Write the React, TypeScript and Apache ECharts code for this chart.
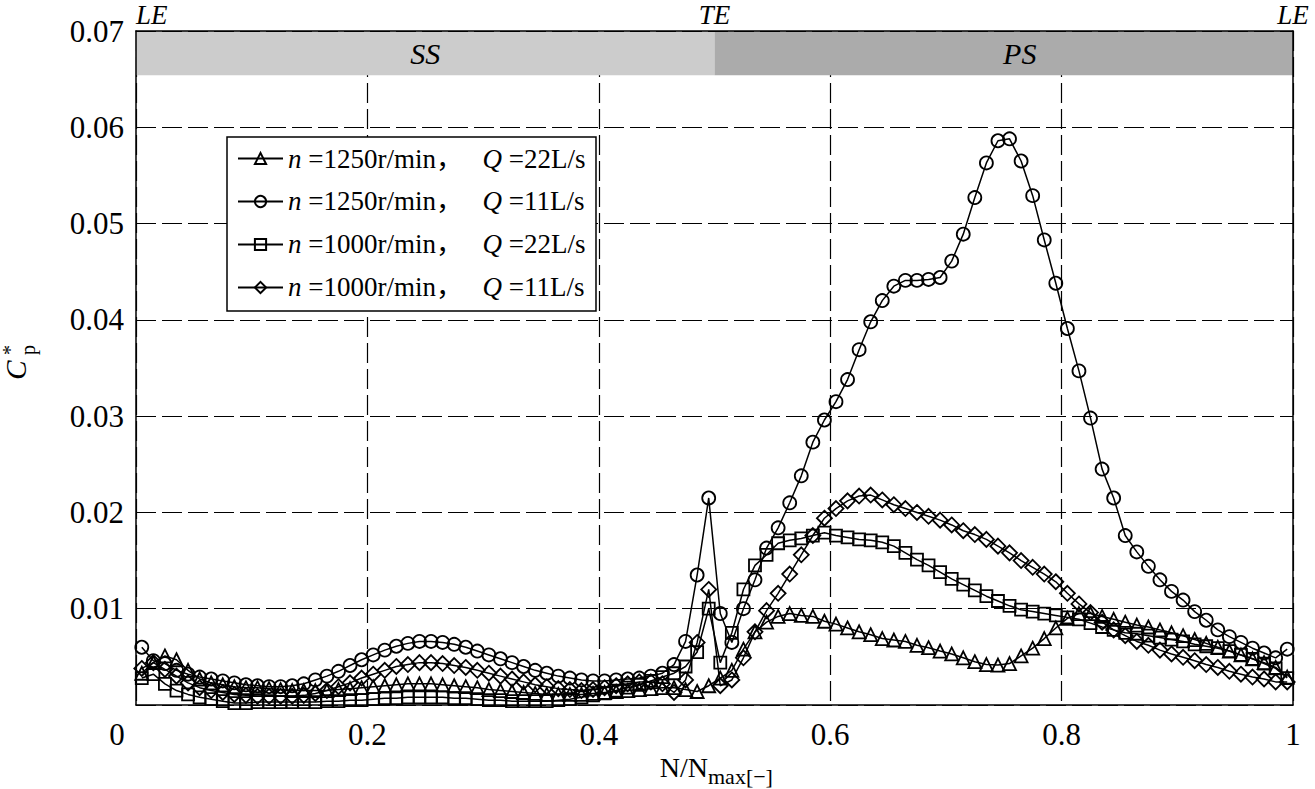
import { useEffect, useRef } from 'react';
import * as echarts from 'echarts';

// N/Nmax positions shared by all four series
const X = [
  0.005, 0.015, 0.025, 0.035, 0.045, 0.055, 0.065, 0.075, 0.085, 0.095,
  0.105, 0.115, 0.125, 0.135, 0.145, 0.155, 0.165, 0.175, 0.185, 0.195,
  0.205, 0.215, 0.225, 0.235, 0.245, 0.255, 0.265, 0.275, 0.285, 0.295,
  0.305, 0.315, 0.325, 0.335, 0.345, 0.355, 0.365, 0.375, 0.385, 0.395,
  0.405, 0.415, 0.425, 0.435, 0.445, 0.455, 0.465, 0.475, 0.485, 0.495,
  0.505, 0.515, 0.525, 0.535, 0.545, 0.555, 0.565, 0.575, 0.585, 0.595,
  0.605, 0.615, 0.625, 0.635, 0.645, 0.655, 0.665, 0.675, 0.685, 0.695,
  0.705, 0.715, 0.725, 0.735, 0.745, 0.755, 0.765, 0.775, 0.785, 0.795,
  0.805, 0.815, 0.825, 0.835, 0.845, 0.855, 0.865, 0.875, 0.885, 0.895,
  0.905, 0.915, 0.925, 0.935, 0.945, 0.955, 0.965, 0.975, 0.985, 0.995,
];

// Cp* values in units of 1e-3
const TRI_1250_22 = [
  3.3, 4.4, 5.1, 4.7, 3.6, 2.7, 2.3, 2.1, 1.9, 1.8,
  1.8, 1.7, 1.6, 1.5, 1.5, 1.5, 1.5, 1.6, 1.7, 1.8,
  1.9, 2.0, 2.1, 2.2, 2.2, 2.2, 2.1, 2.0, 1.9, 1.8,
  1.6, 1.5, 1.4, 1.3, 1.2, 1.1, 1.1, 1.1, 1.1, 1.2,
  1.3, 1.4, 1.5, 1.6, 1.7, 1.8, 1.8, 1.6, 1.4, 2.0,
  2.8, 3.6, 5.8, 7.6, 8.6, 9.2, 9.5, 9.3, 9.2, 8.7,
  8.4, 8.0, 7.6, 7.3, 6.9, 6.75, 6.6, 6.2, 5.95, 5.6,
  5.3, 4.9, 4.5, 4.2, 4.15, 4.3, 5.1, 5.9, 6.9, 8.0,
  9.0, 9.5, 9.5, 9.2, 8.9, 8.6, 8.3, 8.1, 7.8, 7.5,
  7.2, 6.8, 6.4, 6.0, 5.6, 5.2, 4.8, 4.4, 3.9, 2.9,
];
const CIR_1250_11 = [
  6.0, 4.6, 4.3, 3.6, 3.2, 2.9, 2.7, 2.5, 2.3, 2.1,
  2.0, 1.9, 1.9, 2.0, 2.2, 2.6, 3.0, 3.5, 4.1, 4.7,
  5.2, 5.7, 6.1, 6.4, 6.6, 6.6, 6.5, 6.3, 6.0, 5.6,
  5.2, 4.8, 4.4, 4.0, 3.6, 3.3, 3.0, 2.8, 2.6, 2.5,
  2.5, 2.6, 2.7, 2.8, 3.0, 3.3, 4.2, 6.6, 13.5, 21.5,
  9.5, 6.5, 10.0, 13.0, 16.3, 18.4, 21.0, 23.8, 27.3, 29.6,
  31.5, 33.8, 36.9, 39.8, 42.0, 43.5, 44.1, 44.1, 44.2, 44.4,
  46.1, 48.9, 52.7, 56.3, 58.6, 58.8, 56.5, 52.9, 48.3, 43.8,
  39.1, 34.7, 29.8, 24.5, 21.5, 17.6, 15.9, 14.4, 13.0, 11.8,
  10.9, 9.7, 8.8, 7.8, 7.1, 6.5, 5.9, 5.4, 4.9, 5.8,
];
const SQR_1000_22 = [
  2.8, 3.2, 2.2, 1.5, 1.1, 0.8, 0.6, 0.4, 0.2, 0.2,
  0.3, 0.3, 0.3, 0.3, 0.3, 0.3, 0.4, 0.4, 0.5, 0.5,
  0.6, 0.7, 0.7, 0.8, 0.8, 0.8, 0.8, 0.7, 0.7, 0.6,
  0.5, 0.5, 0.4, 0.4, 0.4, 0.4, 0.5, 0.6, 0.8, 1.0,
  1.2, 1.5, 1.8, 2.1, 2.5, 2.9, 3.3, 4.0, 5.5, 10.0,
  4.4, 7.5, 12.0, 14.5, 15.6, 16.8, 17.1, 17.3, 17.6, 17.9,
  17.6, 17.4, 17.2, 17.1, 16.9, 16.5, 15.8, 15.1, 14.5, 13.8,
  13.1, 12.5, 11.9, 11.3, 10.8, 10.3, 9.9, 9.7, 9.5, 9.3,
  9.1, 8.9, 8.5, 8.1, 7.8, 7.5, 7.4, 7.2, 7.0, 6.8,
  6.6, 6.3, 6.1, 5.9, 5.6, 5.2, 4.8, 4.3, 3.8, 2.8,
];
const DIA_1000_11 = [
  3.8, 4.4, 3.7, 3.0, 2.3, 1.8, 1.5, 1.3, 1.1, 1.0,
  0.9, 0.9, 0.9, 0.9, 1.0, 1.2, 1.5, 1.9, 2.3, 2.8,
  3.2, 3.6, 4.0, 4.2, 4.4, 4.4, 4.3, 4.1, 3.9, 3.6,
  3.3, 3.0, 2.7, 2.4, 2.1, 1.9, 1.7, 1.6, 1.5, 1.6,
  1.8, 2.0, 2.2, 2.4, 2.4, 2.2, 1.3, 2.6, 6.5, 12.0,
  2.0, 2.6, 4.9, 7.6, 9.8, 11.6, 13.6, 15.6, 17.6, 19.4,
  20.4, 21.2, 21.7, 21.8, 21.3, 20.8, 20.4, 20.0, 19.6, 19.2,
  18.7, 18.1, 17.7, 17.2, 16.5, 15.8, 15.0, 14.3, 13.6, 12.8,
  11.6, 10.5, 9.6, 8.6, 7.8, 7.2, 6.6, 6.2, 5.7, 5.3,
  4.95, 4.6, 4.2, 3.9, 3.5, 3.2, 2.9, 2.7, 2.4, 2.4,
];

const SERIES_NAMES = ['s1', 's2', 's3', 's4'];
const SERIES_SPEED = ['1250', '1250', '1000', '1000'];
const SERIES_FLOW = ['22', '11', '22', '11'];
const SERIES_SYMBOLS = ['triangle', 'circle', 'rect', 'diamond'];
const SERIES_VALUES = [TRI_1250_22, CIR_1250_11, SQR_1000_22, DIA_1000_11];

const X_TICKS_INTERVAL = 0.2;
const Y_MAX = 0.07;
const Y_INTERVAL = 0.01;
const BAND_LOW = 0.0654;
const BAND_LABELS = ['SS', 'PS'];
const BAND_FROM = [0, 0.5];
const BAND_TO = [0.5, 1];

// styles
const SYMBOL_SIZES = [13, 13, 12, 15];
const BAND_COLORS = ['#cccccc', '#ababab'];
const BAND_LABEL_DX = [0, 16];
const FONT = "'Liberation Serif', 'Times New Roman', 'Noto Sans CJK SC', serif";
const TICK_FONT_SIZE = 31;

export default function App() {
  const ref = useRef<HTMLDivElement>(null);

  useEffect(() => {
    if (!ref.current) return;
    const chart = echarts.init(ref.current, undefined, { renderer: 'svg' });

    const dataSeries = SERIES_NAMES.map((name, k) => ({
      name,
      type: 'line',
      data: X.map((x, i) => [x, SERIES_VALUES[k][i] / 1000]),
      symbol: SERIES_SYMBOLS[k],
      symbolSize: SYMBOL_SIZES[k],
      showAllSymbol: true,
      itemStyle: { color: 'rgba(255,255,255,0)', borderColor: '#000', borderWidth: 1.8 },
      lineStyle: { color: '#000', width: 1.5 },
      emphasis: { disabled: true },
      z: 3,
    }));

    const bandSeries = {
      name: 'band',
      type: 'line',
      data: [],
      silent: true,
      markArea: {
        silent: true,
        data: BAND_LABELS.map((lab, i) => [
          {
            xAxis: BAND_FROM[i],
            yAxis: BAND_LOW,
            itemStyle: { color: BAND_COLORS[i] },
            label: {
              show: true,
              position: 'inside',
              offset: [BAND_LABEL_DX[i], 0],
              formatter: lab,
              color: '#000',
              fontFamily: FONT,
              fontStyle: 'italic',
              fontSize: 30,
            },
          },
          { xAxis: BAND_TO[i], yAxis: Y_MAX },
        ]),
      },
    };

    const axisLineStyle = { color: '#000', width: 1.5 };
    const dashed = { color: '#000', type: [20, 6], width: 1.2 };

    const option = {
      animation: false,
      backgroundColor: '#fff',
      grid: { left: 136, right: 22, top: 31, bottom: 84 },
      legend: {
        data: SERIES_NAMES,
        orient: 'vertical',
        left: 227,
        top: 137,
        z: 10,
        backgroundColor: '#fff',
        borderColor: '#000',
        borderWidth: 1.5,
        padding: [8, 2, 10, 10],
        itemGap: 16,
        itemWidth: 45,
        itemHeight: 14,
        selectedMode: false,
        formatter: (name: string) => {
          const k = SERIES_NAMES.indexOf(name);
          return `{i|n}{a| =${SERIES_SPEED[k]}r/min，}{i|Q}{b| =${SERIES_FLOW[k]}L/s}`;
        },
        textStyle: {
          color: '#000',
          fontFamily: FONT,
          fontSize: 27,
          lineHeight: 26,
          rich: {
            i: { fontStyle: 'italic', fontFamily: FONT, fontSize: 27, lineHeight: 26, color: '#000' },
            a: { fontFamily: FONT, fontSize: 27, lineHeight: 26, color: '#000', width: 181 },
            b: { fontFamily: FONT, fontSize: 27, lineHeight: 26, color: '#000', width: 92 },
          },
        },
      },
      xAxis: [
        {
          type: 'value',
          min: 0,
          max: 1,
          interval: X_TICKS_INTERVAL,
          position: 'bottom',
          axisLine: { show: true, onZero: false, lineStyle: axisLineStyle },
          axisTick: { show: false },
          axisLabel: {
            color: '#000',
            fontFamily: FONT,
            fontSize: TICK_FONT_SIZE,
            margin: 14,
            formatter: (v: number) => (v === 0 ? '{z|0}' : String(+v.toFixed(1))),
            rich: { z: { padding: [0, 38, 0, 0], fontSize: TICK_FONT_SIZE, fontFamily: FONT, color: '#000' } },
          },
          splitLine: { show: true, lineStyle: dashed },
        },
        {
          type: 'value',
          min: 0,
          max: 1,
          interval: 0.5,
          position: 'top',
          z: 5,
          axisLine: { show: true, onZero: false, lineStyle: axisLineStyle },
          axisTick: { show: false },
          splitLine: { show: false },
          axisLabel: {
            color: '#000',
            fontFamily: FONT,
            fontStyle: 'italic',
            fontSize: 27,
            margin: 3,
            alignMinLabel: 'left',
            formatter: (v: number) => (Math.abs(v - 0.5) < 1e-9 ? 'TE' : 'LE'),
          },
        },
      ],
      yAxis: [
        {
          type: 'value',
          min: 0,
          max: Y_MAX,
          interval: Y_INTERVAL,
          position: 'left',
          z: 5,
          axisLine: { show: true, onZero: false, lineStyle: axisLineStyle },
          axisTick: { show: false },
          axisLabel: {
            color: '#000',
            fontFamily: FONT,
            fontSize: TICK_FONT_SIZE,
            margin: 12,
            padding: [6, 0, 0, 0],
            showMinLabel: false,
            formatter: (v: number) => v.toFixed(2),
          },
          splitLine: { show: true, lineStyle: dashed },
        },
        {
          type: 'value',
          min: 0,
          max: Y_MAX,
          interval: Y_INTERVAL,
          position: 'right',
          z: 5,
          axisLine: { show: true, onZero: false, lineStyle: axisLineStyle },
          axisTick: { show: false },
          axisLabel: { show: false },
          splitLine: { show: false },
        },
      ],
      series: [bandSeries, ...dataSeries],
      graphic: [
        {
          type: 'text',
          x: 16,
          y: 370,
          rotation: Math.PI / 2,
          style: { text: 'C', fontFamily: FONT, fontStyle: 'italic', fontSize: 29, fill: '#000', align: 'center', verticalAlign: 'middle' },
        },
        {
          type: 'text',
          x: 10,
          y: 350,
          rotation: Math.PI / 2,
          style: { text: '*', fontFamily: FONT, fontSize: 20, fill: '#000', align: 'center', verticalAlign: 'middle' },
        },
        {
          type: 'text',
          x: 28,
          y: 350,
          rotation: Math.PI / 2,
          style: { text: 'p', fontFamily: FONT, fontSize: 20, fill: '#000', align: 'center', verticalAlign: 'middle' },
        },
        {
          type: 'text',
          x: 708,
          y: 767,
          style: { text: 'N/N', fontFamily: FONT, fontSize: 28, fill: '#000', align: 'right', verticalAlign: 'middle' },
        },
        {
          type: 'text',
          x: 708,
          y: 776,
          style: { text: 'max[−]', fontFamily: FONT, fontSize: 22, fill: '#000', align: 'left', verticalAlign: 'middle' },
        },
      ],
    };

    chart.setOption(option as any);
    return () => chart.dispose();
  }, []);

  return (
    <div
      ref={ref}
      style={{ position: 'fixed', left: 0, top: 0, width: 1315, height: 789, background: '#fff' }}
    />
  );
}
